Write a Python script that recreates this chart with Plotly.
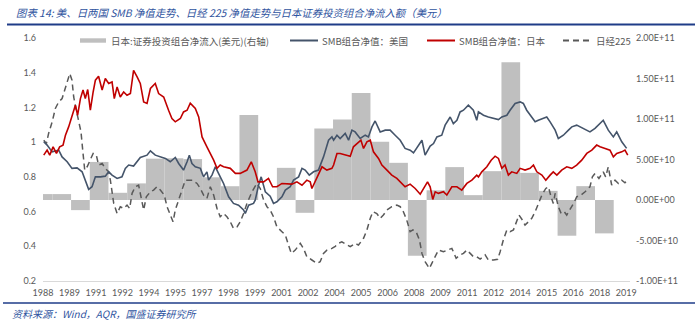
import plotly.graph_objects as go

# ---------------- data ----------------
# Japan: annual net portfolio investment inflow (USD), one value per calendar year
FLOW_YEARS = list(range(1988, 2019))
FLOW_USD = [7.3e9, 7.3e9, -1.25e10, 4.7e10, 8.9e9, 2.05e10, 5.1e10, 5.15e10, 5.05e10,
            2.8e10, 1.7e10, 1.05e11, 0.0, 3.97e10, -1.58e10, 8.83e10, 9.94e10, 1.32e11,
            7.18e10, 4.59e10, -6.88e10, 1.2e10, 4.06e10, 6.0e9, 3.56e10, 1.70e11,
            3.35e10, 1.13e10, -4.41e10, 1.71e10, -4.12e10]

# SMB portfolio NAV, United States (time in decimal years)
US_T = [1988.54, 1988.72, 1988.99, 1989.34, 1989.52, 1989.79, 1990.05, 1990.32, 1990.59, 1990.76,
        1990.94, 1991.12, 1991.30, 1991.57, 1991.83, 1992.01, 1992.19, 1992.46, 1992.72, 1992.90,
        1993.08, 1993.34, 1993.70, 1994.06, 1994.24, 1994.50, 1994.77, 1995.04, 1995.30, 1995.57,
        1995.75, 1996.01, 1996.20, 1996.32, 1996.46, 1996.64, 1996.91, 1997.08, 1997.26, 1997.35,
        1997.53, 1997.71, 1997.88, 1998.15, 1998.42, 1998.68, 1998.95, 1999.22, 1999.31, 1999.49,
        1999.75, 1999.84, 2000.02, 2000.16, 2000.38, 2000.64, 2000.82, 2001.00, 2001.27, 2001.45,
        2001.71, 2001.89, 2002.16, 2002.34, 2002.51, 2002.73, 2002.96, 2003.22, 2003.49, 2003.76,
        2003.94, 2004.03, 2004.21, 2004.38, 2004.65, 2004.83, 2005.01, 2005.18, 2005.45, 2005.72,
        2005.89, 2006.08, 2006.25, 2006.52, 2006.79, 2007.05, 2007.32, 2007.59, 2007.85, 2008.12,
        2008.30, 2008.56, 2008.75, 2008.92, 2009.19, 2009.37, 2009.55, 2009.81, 2009.99, 2010.26,
        2010.43, 2010.62, 2010.79, 2010.97, 2011.23, 2011.50, 2011.68, 2011.77, 2012.04, 2012.30,
        2012.57, 2012.84, 2013.02, 2013.29, 2013.46, 2013.73, 2014.00, 2014.17, 2014.35, 2014.53,
        2014.80, 2014.97, 2015.24, 2015.42, 2015.60, 2015.87, 2016.04, 2016.31, 2016.58, 2016.76,
        2017.02, 2017.20, 2017.47, 2017.73, 2018.00, 2018.27, 2018.44, 2018.71, 2018.98, 2019.16,
        2019.43, 2019.69]
US_NAV = [1.002, 0.983, 0.944, 0.954, 0.915, 0.887, 0.849, 0.852, 0.829, 0.781,
          0.728, 0.743, 0.800, 0.800, 0.804, 0.829, 0.810, 0.791, 0.800, 0.849,
          0.868, 0.862, 0.912, 0.925, 0.950, 0.925, 0.915, 0.906, 0.887, 0.912,
          0.877, 0.839, 0.887, 0.925, 0.877, 0.858, 0.849, 0.800, 0.829, 0.781,
          0.810, 0.858, 0.820, 0.762, 0.685, 0.647, 0.637, 0.609, 0.589, 0.637,
          0.647, 0.666, 0.752, 0.800, 0.714, 0.689, 0.647, 0.656, 0.685, 0.724,
          0.743, 0.781, 0.800, 0.849, 0.839, 0.810, 0.829, 0.839, 0.915, 1.011,
          1.030, 1.011, 1.040, 1.021, 1.050, 1.011, 1.069, 1.059, 1.021, 1.040,
          1.030, 1.088, 1.122, 1.059, 1.069, 1.069, 1.040, 1.011, 0.964, 0.954,
          0.938, 0.977, 1.011, 0.925, 0.977, 0.992, 1.030, 1.040, 1.098, 1.145,
          1.107, 1.126, 1.174, 1.184, 1.213, 1.184, 1.126, 1.174, 1.155, 1.145,
          1.136, 1.130, 1.145, 1.155, 1.184, 1.223, 1.232, 1.223, 1.184, 1.155,
          1.117, 1.126, 1.136, 1.145, 1.117, 1.069, 1.021, 1.040, 1.069, 1.088,
          1.098, 1.088, 1.069, 1.059, 1.079, 1.107, 1.126, 1.069, 1.030, 1.059,
          1.002, 0.964]

# SMB portfolio NAV, Japan
JP_T = [1988.54, 1988.72, 1988.86, 1989.04, 1989.22, 1989.39, 1989.57, 1989.70, 1989.87, 1990.05,
        1990.23, 1990.35, 1990.50, 1990.64, 1990.76, 1990.89, 1991.03, 1991.18, 1991.30, 1991.47,
        1991.66, 1991.83, 1992.01, 1992.19, 1992.31, 1992.46, 1992.63, 1992.81, 1992.99, 1993.17,
        1993.34, 1993.53, 1993.70, 1993.88, 1994.06, 1994.24, 1994.50, 1994.68, 1994.95, 1995.21,
        1995.39, 1995.57, 1995.84, 1996.01, 1996.20, 1996.37, 1996.64, 1996.82, 1997.00, 1997.26,
        1997.44, 1997.62, 1997.80, 1997.97, 1998.15, 1998.51, 1998.78, 1999.04, 1999.40, 1999.63,
        1999.84, 1999.99, 2000.29, 2000.55, 2000.77, 2001.00, 2001.27, 2001.54, 2001.80, 2002.07,
        2002.34, 2002.60, 2002.78, 2002.87, 2003.14, 2003.41, 2003.67, 2003.94, 2004.03, 2004.21,
        2004.38, 2004.65, 2004.92, 2005.09, 2005.28, 2005.49, 2005.63, 2005.81, 2005.99, 2006.16,
        2006.43, 2006.61, 2006.88, 2007.14, 2007.41, 2007.59, 2007.85, 2008.12, 2008.39, 2008.66,
        2008.83, 2009.05, 2009.19, 2009.33, 2009.46, 2009.63, 2009.90, 2010.08, 2010.35, 2010.62,
        2010.88, 2011.15, 2011.42, 2011.68, 2011.77, 2011.95, 2012.22, 2012.45, 2012.66, 2012.84,
        2013.02, 2013.19, 2013.37, 2013.55, 2013.82, 2014.00, 2014.26, 2014.53, 2014.71, 2014.89,
        2015.16, 2015.37, 2015.60, 2015.77, 2015.96, 2016.22, 2016.49, 2016.76, 2017.02, 2017.29,
        2017.56, 2017.83, 2018.09, 2018.27, 2018.54, 2018.80, 2018.98, 2019.16, 2019.43, 2019.60,
        2019.75]
JP_NAV = [0.925, 0.954, 0.925, 0.973, 0.935, 0.973, 0.983, 1.040, 1.088, 1.155,
          1.213, 1.155, 1.251, 1.300, 1.251, 1.303, 1.184, 1.289, 1.357, 1.380,
          1.300, 1.367, 1.338, 1.347, 1.251, 1.318, 1.260, 1.289, 1.270, 1.280,
          1.414, 1.376, 1.338, 1.232, 1.223, 1.309, 1.338, 1.280, 1.260, 1.184,
          1.136, 1.117, 1.136, 1.174, 1.184, 1.225, 1.194, 1.145, 1.030, 0.973,
          0.935, 0.896, 0.849, 0.868, 0.858, 0.849, 0.820, 0.820, 0.839, 0.887,
          0.829, 0.771, 0.771, 0.791, 0.743, 0.743, 0.762, 0.762, 0.758, 0.771,
          0.752, 0.781, 0.771, 0.733, 0.791, 0.858, 0.839, 0.849, 0.868, 0.935,
          0.935, 0.925, 0.919, 0.973, 0.992, 1.011, 0.964, 1.002, 1.011, 0.944,
          0.906, 0.868, 0.839, 0.810, 0.791, 0.771, 0.743, 0.758, 0.733, 0.700,
          0.733, 0.771, 0.743, 0.670, 0.714, 0.705, 0.714, 0.695, 0.743, 0.743,
          0.724, 0.762, 0.781, 0.810, 0.800, 0.829, 0.858, 0.896, 0.919, 0.906,
          0.849, 0.868, 0.810, 0.829, 0.820, 0.849, 0.839, 0.849, 0.868, 0.829,
          0.810, 0.781, 0.810, 0.829, 0.810, 0.839, 0.858, 0.849, 0.868, 0.896,
          0.935, 0.954, 0.983, 0.973, 0.964, 0.954, 0.915, 0.935, 0.944, 0.954,
          0.925]

# Nikkei 225, normalised
NK_T = [1988.54, 1988.68, 1988.80, 1988.99, 1989.16, 1989.34, 1989.52, 1989.70, 1989.93, 1990.05,
        1990.14, 1990.28, 1990.41, 1990.53, 1990.64, 1990.73, 1990.86, 1991.03, 1991.18, 1991.35,
        1991.47, 1991.66, 1991.83, 1992.01, 1992.10, 1992.28, 1992.46, 1992.63, 1992.81, 1992.99,
        1993.13, 1993.26, 1993.43, 1993.61, 1993.79, 1993.88, 1994.02, 1994.24, 1994.41, 1994.59,
        1994.77, 1994.98, 1995.13, 1995.30, 1995.45, 1995.57, 1995.75, 1995.93, 1996.10, 1996.28,
        1996.49, 1996.73, 1996.91, 1997.08, 1997.26, 1997.44, 1997.62, 1997.80, 1997.97, 1998.15,
        1998.33, 1998.51, 1998.68, 1998.87, 1999.04, 1999.22, 1999.40, 1999.67, 1999.93, 2000.11,
        2000.29, 2000.47, 2000.64, 2000.82, 2001.00, 2001.27, 2001.45, 2001.62, 2001.77, 2001.98,
        2002.25, 2002.42, 2002.60, 2002.87, 2003.14, 2003.31, 2003.49, 2003.67, 2003.94, 2004.12,
        2004.29, 2004.47, 2004.74, 2004.92, 2005.18, 2005.36, 2005.63, 2005.81, 2005.99, 2006.13,
        2006.34, 2006.52, 2006.69, 2006.88, 2007.14, 2007.41, 2007.59, 2007.76, 2007.94, 2008.12,
        2008.27, 2008.44, 2008.62, 2008.75, 2008.92, 2009.15, 2009.28, 2009.46, 2009.63, 2009.90,
        2010.17, 2010.35, 2010.58, 2010.79, 2010.97, 2011.15, 2011.33, 2011.50, 2011.68, 2011.86,
        2012.13, 2012.30, 2012.57, 2012.80, 2012.93, 2013.10, 2013.29, 2013.46, 2013.64, 2013.82,
        2013.94, 2014.12, 2014.26, 2014.44, 2014.62, 2014.80, 2014.97, 2015.16, 2015.37, 2015.51,
        2015.65, 2015.77, 2015.87, 2016.04, 2016.19, 2016.36, 2016.49, 2016.66, 2016.90, 2017.02,
        2017.25, 2017.47, 2017.73, 2017.86, 2018.00, 2018.21, 2018.44, 2018.57, 2018.71, 2018.89,
        2019.07, 2019.25, 2019.43, 2019.60, 2019.75]
NK_IDX = [1.011, 0.992, 1.050, 1.117, 1.194, 1.232, 1.251, 1.318, 1.395, 1.357,
          1.260, 1.184, 1.126, 1.059, 0.935, 0.839, 0.858, 0.896, 0.935, 0.925,
          0.868, 0.877, 0.849, 0.829, 0.781, 0.647, 0.589, 0.628, 0.618, 0.637,
          0.618, 0.705, 0.743, 0.752, 0.666, 0.609, 0.685, 0.714, 0.724, 0.743,
          0.724, 0.695, 0.628, 0.580, 0.541, 0.609, 0.666, 0.724, 0.780, 0.780,
          0.781, 0.762, 0.733, 0.695, 0.676, 0.743, 0.695, 0.618, 0.570, 0.589,
          0.570, 0.541, 0.503, 0.512, 0.541, 0.589, 0.647, 0.714, 0.762, 0.733,
          0.666, 0.628, 0.609, 0.570, 0.512, 0.484, 0.465, 0.407, 0.359, 0.378,
          0.417, 0.388, 0.340, 0.321, 0.302, 0.311, 0.359, 0.378, 0.388, 0.400,
          0.417, 0.426, 0.407, 0.398, 0.417, 0.407, 0.446, 0.494, 0.561, 0.599,
          0.589, 0.561, 0.580, 0.609, 0.628, 0.637, 0.628, 0.599, 0.551, 0.484,
          0.494, 0.484, 0.436, 0.359, 0.311, 0.273, 0.302, 0.340, 0.378, 0.369,
          0.378, 0.388, 0.331, 0.350, 0.359, 0.378, 0.359, 0.340, 0.340, 0.326,
          0.350, 0.321, 0.321, 0.325, 0.369, 0.436, 0.494, 0.484, 0.494, 0.541,
          0.580, 0.551, 0.522, 0.541, 0.561, 0.599, 0.647, 0.695, 0.733, 0.743,
          0.685, 0.647, 0.705, 0.628, 0.589, 0.599, 0.580, 0.609, 0.656, 0.685,
          0.695, 0.714, 0.743, 0.800, 0.820, 0.791, 0.829, 0.800, 0.858, 0.752,
          0.781, 0.762, 0.781, 0.766, 0.781]

# axis labels: a year label every 17 months starting July 1988
X_TICK_TEXT = ["1988", "1989", "1991", "1992", "1994", "1995", "1997", "1998", "1999", "2001",
               "2002", "2004", "2005", "2006", "2008", "2009", "2011", "2012", "2014", "2015",
               "2016", "2018", "2019"]
X_TICK_START = 1988.5
X_TICK_STEP_MONTHS = 17
LEFT_TICKS = [0.2, 0.4, 0.6, 0.8, 1.0, 1.2, 1.4, 1.6]
LEFT_TICK_TEXT = ["0.2", "0.4", "0.6", "0.8", "1", "1.2", "1.4", "1.6"]
RIGHT_TICKS = [-1e11, -5e10, 0, 5e10, 1e11, 1.5e11, 2e11]
RIGHT_TICK_TEXT = ["-1.00E+11", "-5.00E+10", "0.00E+00", "5.00E+10", "1.00E+11", "1.50E+11", "2.00E+11"]

TITLE = "图表 14: 美、日两国 SMB 净值走势、日经 225 净值走势与日本证券投资组合净流入额（美元）"
SOURCE = "资料来源：Wind，AQR，国盛证券研究所"
LEGEND_NAMES = ["日本:证券投资组合净流入(美元)(右轴)", "SMB组合净值：美国", "SMB组合净值：日本", "日经225"]

# ---------------- style ----------------
W, H = 700, 322
ML, MR, MT, MB = 43, 70, 38, 41
PW, PH = W - ML - MR, H - MT - MB
C_BAR = "#BFBFBF"
C_US = "#44546A"
C_JP = "#C00000"
C_NK = "#595959"
C_TXT = "#595959"
C_BLUE_TXT = "#2F54A0"
C_BLUE_LINE = "#1F3C88"
NUM_FONT = "Lato, 'Liberation Sans', sans-serif"
CJK_FONT = "'Noto Sans CJK SC', sans-serif"
NK_DASH = "6px,4px"


def px_x(px):
    """pixel column -> paper x"""
    return (px - ML) / PW


def px_y(py):
    """pixel row -> paper y"""
    return (H - MB - py) / PH


x_tickvals = [X_TICK_START + X_TICK_STEP_MONTHS * k / 12 for k in range(len(X_TICK_TEXT))]

fig = go.Figure()

fig.add_trace(go.Bar(
    x=[y + 0.5 for y in FLOW_YEARS], y=FLOW_USD, width=1.0,
    marker=dict(color=C_BAR, line=dict(width=0)),
    name=LEGEND_NAMES[0], yaxis="y", showlegend=False, hoverinfo="skip",
))
fig.add_trace(go.Scatter(
    x=NK_T, y=NK_IDX, mode="lines", name=LEGEND_NAMES[3], yaxis="y2",
    line=dict(color=C_NK, width=1.5, dash=NK_DASH), showlegend=False,
))
fig.add_trace(go.Scatter(
    x=US_T, y=US_NAV, mode="lines", name=LEGEND_NAMES[1], yaxis="y2",
    line=dict(color=C_US, width=1.6), showlegend=False,
))
fig.add_trace(go.Scatter(
    x=JP_T, y=JP_NAV, mode="lines", name=LEGEND_NAMES[2], yaxis="y2",
    line=dict(color=C_JP, width=1.6), showlegend=False,
))

fig.update_layout(
    width=W, height=H,
    margin=dict(l=ML, r=MR, t=MT, b=MB, pad=0),
    paper_bgcolor="white", plot_bgcolor="white",
    showlegend=False,
    xaxis=dict(
        range=[1988.5, 2019.87], tickmode="array", tickvals=x_tickvals, ticktext=X_TICK_TEXT,
        showgrid=False, zeroline=False, showline=True, linecolor="#D9D9D9", linewidth=1,
        ticks="", tickfont=dict(family=NUM_FONT, size=9, color=C_TXT), ticklabelstandoff=3,
    ),
    yaxis=dict(
        range=[-1e11, 2e11], side="right", tickmode="array",
        tickvals=RIGHT_TICKS, ticktext=RIGHT_TICK_TEXT,
        showgrid=False, zeroline=False, showline=False, ticks="",
        tickfont=dict(family=NUM_FONT, size=9, color=C_TXT), ticklabelstandoff=5,
    ),
    yaxis2=dict(
        range=[0.2, 1.6], side="left", overlaying="y", anchor="x", tickmode="array",
        tickvals=LEFT_TICKS, ticktext=LEFT_TICK_TEXT,
        showgrid=False, zeroline=False, showline=False, ticks="",
        tickfont=dict(family=NUM_FONT, size=9, color=C_TXT), ticklabelstandoff=6,
    ),
)

shapes = []
annotations = []

# header and footer rules
shapes.append(dict(type="line", xref="paper", yref="paper",
                   x0=px_x(7), x1=px_x(695), y0=px_y(24.5), y1=px_y(24.5),
                   line=dict(color=C_BLUE_LINE, width=2)))
shapes.append(dict(type="line", xref="paper", yref="paper",
                   x0=px_x(3), x1=px_x(695), y0=px_y(303), y1=px_y(303),
                   line=dict(color=C_BLUE_LINE, width=1.5)))

annotations.append(dict(text=TITLE, xref="paper", yref="paper", x=px_x(14), y=px_y(13),
                        xanchor="left", yanchor="middle", showarrow=False,
                        font=dict(family=CJK_FONT, size=10.4, color=C_BLUE_TXT, style="italic")))
annotations.append(dict(text=SOURCE, xref="paper", yref="paper", x=px_x(10), y=px_y(313),
                        xanchor="left", yanchor="middle", showarrow=False,
                        font=dict(family=CJK_FONT, size=10, color=C_BLUE_TXT, style="italic")))

# legend row
LEG_Y = 40.5
shapes.append(dict(type="rect", xref="paper", yref="paper",
                   x0=px_x(80), x1=px_x(106), y0=px_y(38.3), y1=px_y(42.7),
                   fillcolor=C_BAR, line=dict(width=0)))
shapes.append(dict(type="line", xref="paper", yref="paper",
                   x0=px_x(290), x1=px_x(318), y0=px_y(LEG_Y), y1=px_y(LEG_Y),
                   line=dict(color=C_US, width=2)))
shapes.append(dict(type="line", xref="paper", yref="paper",
                   x0=px_x(427), x1=px_x(455), y0=px_y(LEG_Y), y1=px_y(LEG_Y),
                   line=dict(color=C_JP, width=2)))
shapes.append(dict(type="line", xref="paper", yref="paper",
                   x0=px_x(563), x1=px_x(591), y0=px_y(LEG_Y), y1=px_y(LEG_Y),
                   line=dict(color=C_NK, width=1.8, dash=NK_DASH)))
for name, lx in zip(LEGEND_NAMES, [109, 320, 457, 594]):
    annotations.append(dict(text=name, xref="paper", yref="paper", x=px_x(lx), y=px_y(LEG_Y),
                            xanchor="left", yanchor="middle", showarrow=False,
                            font=dict(family=CJK_FONT, size=9.5, color=C_TXT)))

fig.update_layout(shapes=shapes, annotations=annotations)

fig.write_html("out.html")
